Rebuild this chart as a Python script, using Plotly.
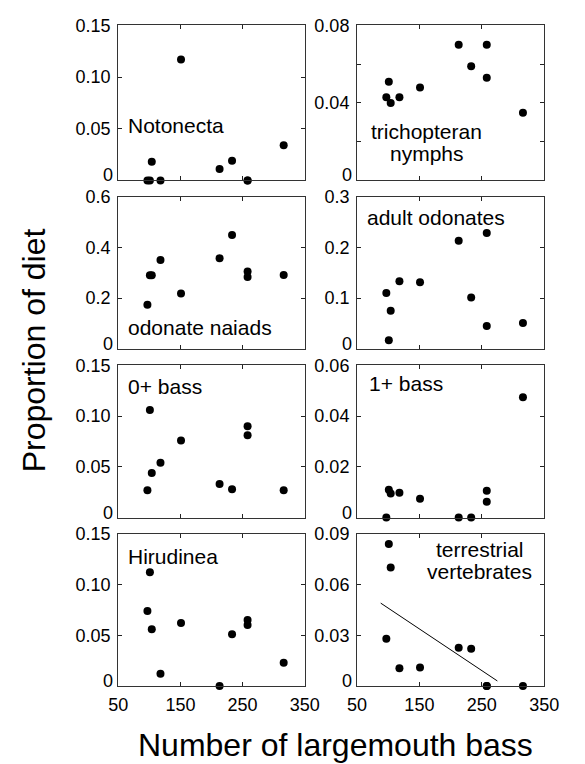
import plotly.graph_objects as go

# ---- data ----
bass = [97, 101, 104, 118, 151, 213, 233, 258, 258, 316]

notonecta = [0, 0, 0.018, 0, 0.117, 0.011, 0.019, 0, 0, 0.034]
trichopteran = [0.043, 0.051, 0.040, 0.043, 0.048, 0.070, 0.059, 0.070, 0.053, 0.035]
odonate_naiads = [0.174, 0.29, 0.29, 0.35, 0.218, 0.357, 0.448, 0.305, 0.283, 0.291]
adult_odonates = [0.110, 0.017, 0.075, 0.133, 0.131, 0.213, 0.101, 0.228, 0.045, 0.051]
bass0 = [0.027, 0.106, 0.044, 0.054, 0.076, 0.033, 0.028, 0.090, 0.081, 0.027]
bass1 = [0, 0.011, 0.0095, 0.0098, 0.0074, 0, 0, 0.0106, 0.0062, 0.0474]
hirudinea = [0.074, 0.112, 0.056, 0.012, 0.062, 0, 0.051, 0.065, 0.060, 0.023]
terrestrial = [0.028, 0.084, 0.070, 0.0105, 0.011, 0.0226, 0.022, 0, 0, 0]

# fitted line shown in the terrestrial vertebrates panel (end points)
fit_x = [88, 275]
fit_y = [0.049, 0.003]

x_ticks = [50, 150, 250, 350]
x_ticktext = ["50", "150", "250", "350"]

yt_015 = [0, 0.05, 0.10, 0.15]
yt_015_text = ["0", "0.05", "0.10", "0.15"]
yt_008 = [0, 0.02, 0.04, 0.06, 0.08]
yt_008_text = ["0", "", "0.04", "", "0.08"]
yt_06 = [0, 0.2, 0.4, 0.6]
yt_06_text = ["0", "0.2", "0.4", "0.6"]
yt_03 = [0, 0.1, 0.2, 0.3]
yt_03_text = ["0", "0.1", "0.2", "0.3"]
yt_006 = [0, 0.02, 0.04, 0.06]
yt_006_text = ["0", "0.02", "0.04", "0.06"]
yt_009 = [0, 0.03, 0.06, 0.09]
yt_009_text = ["0", "0.03", "0.06", "0.09"]

# ---- layout geometry ----
W, H = 585, 764
col_x = [(113, 308), (362.5, 558)]
row_y = [(15.7, 172.7), (189, 343.3), (360, 514.3), (530.7, 685)]

FONT = "Liberation Sans, Arial, Helvetica, sans-serif"
TICKFONT = dict(family=FONT, size=18, color="black")
LABELFONT = dict(family=FONT, size=21, color="black")

# panel: values, tickvals, ticktext, labels [(text, xfrac, yfrac, xanchor)]
panels = [
    (notonecta, yt_015, yt_015_text, [("Notonecta", 0.04, 0.353, "left")]),
    (trichopteran, yt_008, yt_008_text, [("trichopteran", 0.372, 0.318, "center"),
                                         ("nymphs", 0.372, 0.172, "center")]),
    (odonate_naiads, yt_06, yt_06_text, [("odonate naiads", 0.04, 0.14, "left")]),
    (adult_odonates, yt_03, yt_03_text, [("adult odonates", 0.042, 0.864, "left")]),
    (bass0, yt_015, yt_015_text, [("0+ bass", 0.04, 0.859, "left")]),
    (bass1, yt_006, yt_006_text, [("1+ bass", 0.055, 0.881, "left")]),
    (hirudinea, yt_015, yt_015_text, [("Hirudinea", 0.042, 0.853, "left")]),
    (terrestrial, yt_009, yt_009_text, [("terrestrial", 0.657, 0.896, "center"),
                                        ("vertebrates", 0.657, 0.752, "center")]),
]

fig = go.Figure()
annotations = []
layout = {}

for i, (vals, tv, tt, labels) in enumerate(panels):
    r, c = divmod(i, 2)
    n = i + 1
    xa = "x" if n == 1 else f"x{n}"
    ya = "y" if n == 1 else f"y{n}"
    xkey = "xaxis" if n == 1 else f"xaxis{n}"
    ykey = "yaxis" if n == 1 else f"yaxis{n}"
    x0, x1 = col_x[c]
    y0, y1 = row_y[r]

    fig.add_trace(go.Scatter(
        x=bass, y=vals, mode="markers", xaxis=xa, yaxis=ya,
        marker=dict(color="black", size=8, line=dict(width=0)),
        cliponaxis=False, showlegend=False, hoverinfo="x+y"))

    bottom = (r == 3)
    layout[xkey] = dict(
        domain=[x0 / W, x1 / W], anchor=ya, range=[50, 350],
        tickvals=x_ticks, ticktext=x_ticktext, showticklabels=bottom,
        ticks="inside", ticklen=4, tickwidth=1, tickcolor="#222",
        showline=True, linecolor="#333", linewidth=1, mirror="ticks",
        showgrid=False, zeroline=False, tickfont=TICKFONT,
        ticklabelstandoff=2, fixedrange=True)

    # the zero label sits a little above the bottom frame (as in the reference);
    # it is drawn as an annotation at y=0 on the same axis, raised a few pixels
    tt_axis = [""] + list(tt[1:])
    layout[ykey] = dict(
        domain=[1 - y1 / H, 1 - y0 / H], anchor=xa, range=[0, tv[-1]],
        tickvals=tv, ticktext=tt_axis,
        ticks="inside", ticklen=4, tickwidth=1, tickcolor="#222",
        showline=True, linecolor="#333", linewidth=1, mirror="ticks",
        showgrid=False, zeroline=False, tickfont=TICKFONT,
        ticklabelstandoff=3, fixedrange=True)
    annotations.append(dict(
        text=tt[0], x=0, y=tv[0], xref=f"{xa} domain", yref=ya,
        xanchor="right", yanchor="middle", xshift=-3, yshift=5,
        showarrow=False, font=TICKFONT))

    for text, fx, fy, anc in labels:
        annotations.append(dict(
            text=text, x=fx, y=fy, xref=f"{xa} domain", yref=f"{ya} domain",
            xanchor=anc, yanchor="middle", showarrow=False, font=LABELFONT))

# regression line in terrestrial vertebrates panel
fig.add_trace(go.Scatter(
    x=fit_x, y=fit_y, mode="lines", xaxis="x8", yaxis="y8",
    line=dict(color="black", width=1), showlegend=False, hoverinfo="skip"))

# axis titles
annotations.append(dict(
    text="Number of largemouth bass", x=340 / W, y=1 - 745 / H,
    xref="paper", yref="paper", xanchor="center", yanchor="middle",
    showarrow=False, font=dict(family=FONT, size=32, color="black")))
annotations.append(dict(
    text="Proportion of diet", x=26 / W, y=1 - 345 / H, textangle=-90,
    xref="paper", yref="paper", xanchor="center", yanchor="middle",
    showarrow=False, font=dict(family=FONT, size=32, color="black")))

fig.update_layout(
    width=W, height=H,
    margin=dict(l=0, r=0, t=0, b=0),
    paper_bgcolor="white", plot_bgcolor="white",
    annotations=annotations, showlegend=False,
    **layout)

fig.write_html("out.html")
